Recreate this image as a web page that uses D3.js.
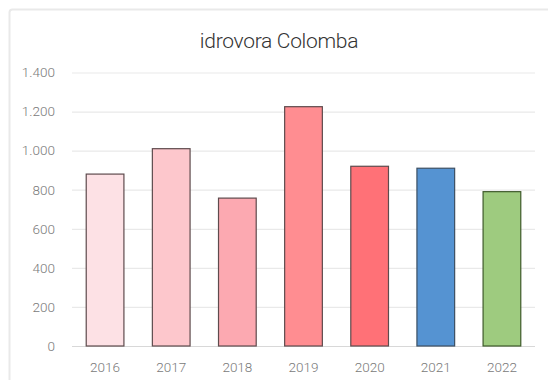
<!DOCTYPE html>
<html>
<head>
<meta charset="utf-8">
<script src="https://cdn.jsdelivr.net/npm/d3@7"></script>
<style>
  html, body { margin: 0; padding: 0; background: #ffffff; }
  svg { display: block; }
  text { font-family: Roboto, "Liberation Sans", sans-serif; }
</style>
</head>
<body>
<svg id="chart" width="548" height="380"></svg>
<script>
// Annual values for the Colomba pumping station
const years = ["2016", "2017", "2018", "2019", "2020", "2021", "2022"];
const values = [880, 1010, 757, 1225, 920, 910, 790];
const fills = ["#fde1e5", "#fdc7cc", "#fca9b1", "#ff8d91", "#ff7177", "#5593d2", "#9ecb7f"];
const strokes = ["#5e4b4d", "#5e4b4d", "#5e4b4d", "#5e4b4d", "#5e4b4d", "#3d4f63", "#3e5a2a"];
const yTicks = [0, 200, 400, 600, 800, 1000, 1200, 1400];
const title = "idrovora Colomba";

const svg = d3.select("#chart");
const W = 548, H = 380;
const margin = { left: 72, right: 13, top: 72.5, bottom: 34 };

// Italian number format: 1.400
const it = d3.formatLocale({ decimal: ",", thousands: ".", grouping: [3], currency: ["€", ""] });
const fmt = it.format(",");

// Outer frame of the chart card
svg.append("rect")
  .attr("x", 9.5).attr("y", 9.5)
  .attr("width", 580).attr("height", 400)
  .attr("rx", 3)
  .attr("fill", "none")
  .attr("stroke", "#e9e9e9")
  .attr("stroke-width", 2);

const x = d3.scaleBand()
  .domain(years)
  .range([margin.left, W - margin.right])
  .paddingInner(0.43)
  .paddingOuter(0.215);

const y = d3.scaleLinear()
  .domain([0, 1400])
  .range([H - margin.bottom, margin.top]);

// Horizontal gridlines with value labels
const yAxis = d3.axisLeft(y)
  .tickValues(yTicks)
  .tickFormat(fmt)
  .tickSize(-(W - margin.right - margin.left))
  .tickPadding(17);

const gy = svg.append("g")
  .attr("transform", `translate(${margin.left},0)`)
  .call(yAxis);
gy.select(".domain").remove();
gy.selectAll(".tick line")
  .attr("stroke", d => d === 0 ? "#d8d8d8" : "#e9e9e9")
  .attr("stroke-width", 1.2);
gy.selectAll(".tick text")
  .attr("fill", "#7a7a7a")
  .attr("font-size", 13.5)
  .attr("font-weight", 300);

// Category labels along the bottom
const xAxis = d3.axisBottom(x).tickSize(0).tickPadding(16);
const gx = svg.append("g")
  .attr("transform", `translate(0,${H - margin.bottom})`)
  .call(xAxis);
gx.select(".domain").remove();
gx.selectAll(".tick text")
  .attr("fill", "#7a7a7a")
  .attr("font-size", 13.5)
  .attr("font-weight", 300);

// Bars
svg.append("g")
  .selectAll("rect")
  .data(years)
  .join("rect")
  .attr("x", d => x(d))
  .attr("width", x.bandwidth())
  .attr("y", (d, i) => y(values[i]))
  .attr("height", (d, i) => y(0) - y(values[i]))
  .attr("fill", (d, i) => fills[i])
  .attr("stroke", (d, i) => strokes[i])
  .attr("stroke-width", 1.2);

// Title
svg.append("text")
  .attr("x", 279)
  .attr("y", 48)
  .attr("text-anchor", "middle")
  .attr("fill", "#333333")
  .attr("font-size", 21)
  .attr("font-weight", 300)
  .attr("letter-spacing", -0.3)
  .text(title);
</script>
</body>
</html>
